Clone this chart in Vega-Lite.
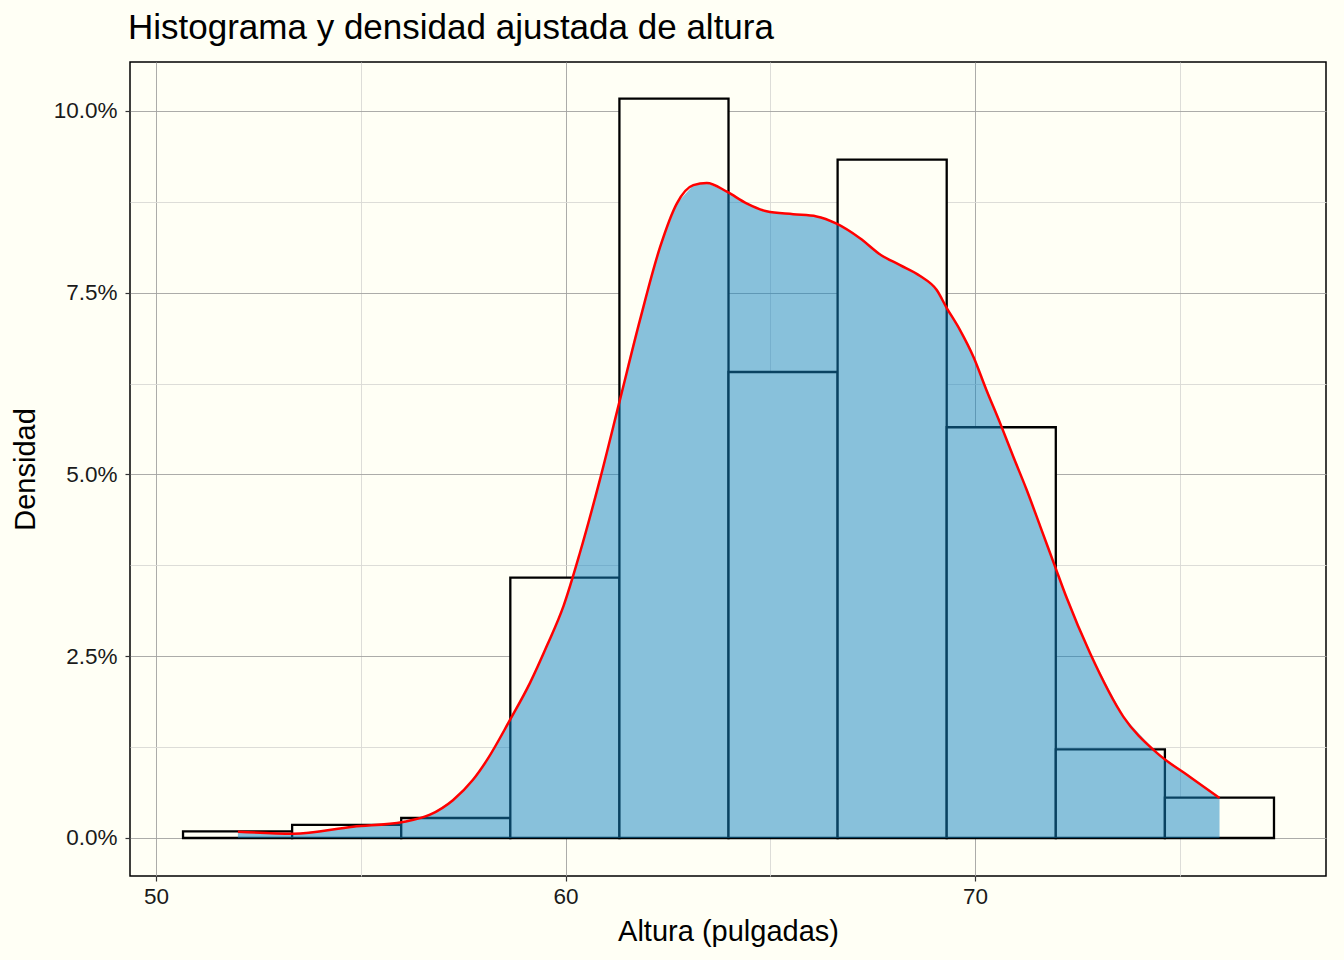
{
  "$schema": "https://vega.github.io/schema/vega-lite/v6.json",
  "width": 1196,
  "height": 814,
  "autosize": {"type": "none"},
  "padding": {"left": 130, "top": 62, "right": 18, "bottom": 84},
  "background": "#FFFFF5",
  "title": {
    "text": "Histograma y densidad ajustada de altura",
    "anchor": "start",
    "frame": "group",
    "dx": -2,
    "offset": 16,
    "font": "Liberation Sans",
    "fontSize": 35,
    "fontWeight": "normal",
    "color": "#000000"
  },
  "config": {
    "view": {"stroke": "#000000", "strokeWidth": 1.5, "fill": "#FFFFF5"},
    "axis": {
      "labelFont": "Liberation Sans",
      "titleFont": "Liberation Sans",
      "labelFontSize": 22.5,
      "labelColor": "#1a1a1a",
      "titleFontSize": 29,
      "titleFontWeight": "normal",
      "titleColor": "#000000",
      "domain": false,
      "tickColor": "#333333",
      "tickSize": 5,
      "tickWidth": 1.2,
      "gridWidth": 0.9
    }
  },
  "datasets": {
    "bins": [
      {"x0": 50.66, "x1": 53.324, "densidad": 0.0009},
      {"x0": 53.324, "x1": 55.988, "densidad": 0.0018},
      {"x0": 55.988, "x1": 58.652, "densidad": 0.00275},
      {"x0": 58.652, "x1": 61.316, "densidad": 0.0358},
      {"x0": 61.316, "x1": 63.98, "densidad": 0.1017},
      {"x0": 63.98, "x1": 66.644, "densidad": 0.0641},
      {"x0": 66.644, "x1": 69.308, "densidad": 0.0933},
      {"x0": 69.308, "x1": 71.972, "densidad": 0.0565},
      {"x0": 71.972, "x1": 74.636, "densidad": 0.0122},
      {"x0": 74.636, "x1": 77.3, "densidad": 0.00555}
    ],
    "dens": [
      {"altura": 52.0, "densidad": 0.00087},
      {"altura": 53.35, "densidad": 0.00058},
      {"altura": 54.81, "densidad": 0.00155},
      {"altura": 56.03, "densidad": 0.0022},
      {"altura": 56.69, "densidad": 0.0032},
      {"altura": 57.25, "densidad": 0.0052},
      {"altura": 57.74, "densidad": 0.008},
      {"altura": 58.08, "densidad": 0.0107},
      {"altura": 58.64, "densidad": 0.0162},
      {"altura": 59.13, "densidad": 0.0213},
      {"altura": 59.55, "densidad": 0.0265},
      {"altura": 59.95, "densidad": 0.0319},
      {"altura": 60.35, "densidad": 0.0392},
      {"altura": 60.84, "densidad": 0.0493},
      {"altura": 61.33, "densidad": 0.0603},
      {"altura": 61.82, "densidad": 0.0713},
      {"altura": 62.31, "densidad": 0.0813},
      {"altura": 62.72, "densidad": 0.0873},
      {"altura": 63.12, "densidad": 0.0898},
      {"altura": 63.45, "densidad": 0.0901},
      {"altura": 63.94, "densidad": 0.0889},
      {"altura": 64.42, "densidad": 0.0873},
      {"altura": 64.91, "densidad": 0.0862},
      {"altura": 65.56, "densidad": 0.0858},
      {"altura": 66.13, "densidad": 0.0855},
      {"altura": 66.62, "densidad": 0.0845},
      {"altura": 67.19, "densidad": 0.0825},
      {"altura": 67.7, "densidad": 0.0802},
      {"altura": 68.17, "densidad": 0.0788},
      {"altura": 68.66, "densidad": 0.0773},
      {"altura": 69.06, "densidad": 0.0754},
      {"altura": 69.31, "densidad": 0.0729},
      {"altura": 69.63, "densidad": 0.0699},
      {"altura": 69.96, "densidad": 0.0662},
      {"altura": 70.28, "densidad": 0.0616},
      {"altura": 70.61, "densidad": 0.0571},
      {"altura": 70.93, "densidad": 0.0525},
      {"altura": 71.26, "densidad": 0.0479},
      {"altura": 71.59, "densidad": 0.0429},
      {"altura": 71.95, "densidad": 0.0374},
      {"altura": 72.24, "densidad": 0.033},
      {"altura": 72.81, "densidad": 0.0254},
      {"altura": 73.62, "densidad": 0.0167},
      {"altura": 74.44, "densidad": 0.0117},
      {"altura": 75.25, "densidad": 0.0084},
      {"altura": 75.97, "densidad": 0.0055}
    ]
  },
  "layer": [
    {
      "data": {"name": "bins"},
      "mark": {"type": "rect", "fill": "#FFFFF5", "stroke": "#000000", "strokeWidth": 2.3},
      "encoding": {
        "x": {
          "field": "x0",
          "type": "quantitative",
          "title": "Altura (pulgadas)",
          "scale": {"domain": [49.365, 78.57], "nice": false, "zero": false},
          "axis": {
            "values": [50, 55, 60, 65, 70, 75],
            "labelExpr": "datum.value % 10 === 0 ? datum.label : ''",
            "tickOpacity": {"condition": {"test": "datum.value % 10 === 0", "value": 1}, "value": 0},
            "gridColor": {"condition": {"test": "datum.value % 10 === 0", "value": "#a3a3a0"}, "value": "#d9d9d5"},
            "labelPadding": 4,
            "titlePadding": 10
          }
        },
        "x2": {"field": "x1"},
        "y": {
          "field": "densidad",
          "type": "quantitative",
          "title": "Densidad",
          "scale": {"domain": [-0.00523, 0.10674], "nice": false, "zero": false},
          "axis": {
            "values": [0, 0.0125, 0.025, 0.0375, 0.05, 0.0625, 0.075, 0.0875, 0.1],
            "format": ".1%",
            "labelExpr": "round(datum.value * 10000) % 250 === 0 ? datum.label : ''",
            "tickOpacity": {"condition": {"test": "round(datum.value * 10000) % 250 === 0", "value": 1}, "value": 0},
            "gridColor": {"condition": {"test": "round(datum.value * 10000) % 250 === 0", "value": "#a3a3a0"}, "value": "#d9d9d5"},
            "labelPadding": 8,
            "titlePadding": 13
          }
        },
        "y2": {"datum": 0}
      }
    },
    {
      "data": {"name": "dens"},
      "mark": {"type": "area", "color": "#1183c1", "fillOpacity": 0.5},
      "encoding": {
        "x": {"field": "altura", "type": "quantitative"},
        "y": {"field": "densidad", "type": "quantitative", "stack": null}
      }
    },
    {
      "data": {"name": "dens"},
      "mark": {"type": "line", "color": "#ff0000", "strokeWidth": 2.5, "interpolate": "monotone"},
      "encoding": {
        "x": {"field": "altura", "type": "quantitative"},
        "y": {"field": "densidad", "type": "quantitative"}
      }
    }
  ]
}
